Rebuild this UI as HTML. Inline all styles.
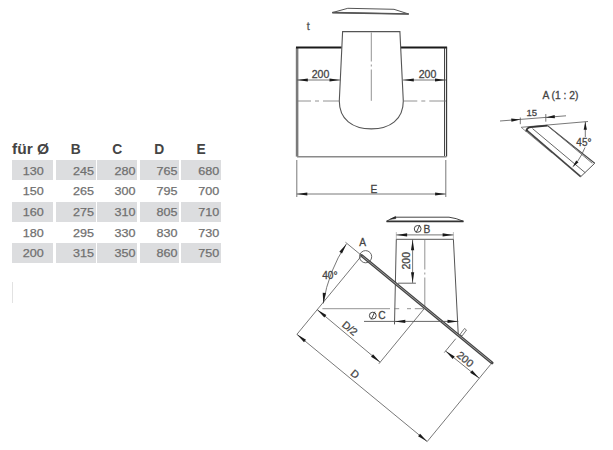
<!DOCTYPE html>
<html><head><meta charset="utf-8"><style>
html,body{margin:0;padding:0;background:#fff;}
body{width:613px;height:450px;position:relative;overflow:hidden;font-family:"Liberation Sans",sans-serif;}
.c{position:absolute;height:20px;}
.g{background:#dcdddf;}
.vl{position:absolute;left:12px;top:282px;width:1px;height:21px;background:#e2e2e2;}
svg{position:absolute;left:0;top:0;}
svg text{font-family:"Liberation Sans",sans-serif;}
</style></head><body>
<div class="c g" style="left:12.00px;top:160.30px;width:40.80px;"></div><div class="c g" style="left:55.50px;top:160.30px;width:40.20px;"></div><div class="c g" style="left:97.40px;top:160.30px;width:39.90px;"></div><div class="c g" style="left:139.50px;top:160.30px;width:39.70px;"></div><div class="c g" style="left:181.40px;top:160.30px;width:39.60px;"></div><div class="c g" style="left:12.00px;top:201.50px;width:40.80px;"></div><div class="c g" style="left:55.50px;top:201.50px;width:40.20px;"></div><div class="c g" style="left:97.40px;top:201.50px;width:39.90px;"></div><div class="c g" style="left:139.50px;top:201.50px;width:39.70px;"></div><div class="c g" style="left:181.40px;top:201.50px;width:39.60px;"></div><div class="c g" style="left:12.00px;top:242.70px;width:40.80px;"></div><div class="c g" style="left:55.50px;top:242.70px;width:40.20px;"></div><div class="c g" style="left:97.40px;top:242.70px;width:39.90px;"></div><div class="c g" style="left:139.50px;top:242.70px;width:39.70px;"></div><div class="c g" style="left:181.40px;top:242.70px;width:39.60px;"></div>
<div class="vl"></div>
<svg width="613" height="450" viewBox="0 0 613 450">
<polygon points="332.30,12.60 347.80,8.30 394.00,9.30 408.70,14.00" fill="none" stroke="#555" stroke-width="1.0" />
<line x1="332.30" y1="12.60" x2="408.70" y2="14.00" stroke="#555" stroke-width="1.6" />
<line x1="297.10" y1="47.60" x2="297.10" y2="156.60" stroke="#7a7a7a" stroke-width="2.6" />
<line x1="296.00" y1="47.60" x2="341.60" y2="47.60" stroke="#1a1a1a" stroke-width="2.0" />
<line x1="400.60" y1="47.60" x2="447.10" y2="47.60" stroke="#1a1a1a" stroke-width="2.0" />
<line x1="444.60" y1="47.60" x2="444.60" y2="156.50" stroke="#333" stroke-width="1.0" />
<line x1="446.60" y1="47.60" x2="446.60" y2="156.50" stroke="#333" stroke-width="1.1" />
<line x1="297.00" y1="156.70" x2="446.50" y2="156.70" stroke="#8a8a8a" stroke-width="1.5" />
<path d="M339.3,101 L342.6,31.6 L399.9,31.6 L403.3,101 C403.3,119.5 390,128.9 371.3,128.9 C352.6,128.9 339.3,119.5 339.3,101" stroke="#555" stroke-width="1.1" fill="none" />
<line x1="371.30" y1="32.50" x2="371.30" y2="100.80" stroke="#777" stroke-width="0.8" stroke-dasharray="29 3 2 3 40"/>
<line x1="297.00" y1="101.00" x2="339.30" y2="101.00" stroke="#777" stroke-width="0.8" stroke-dasharray="14 4 4 4 40"/>
<line x1="403.30" y1="101.00" x2="446.00" y2="101.00" stroke="#777" stroke-width="0.8" stroke-dasharray="14 4 4 4 40"/>
<line x1="297.00" y1="80.00" x2="340.50" y2="80.00" stroke="#555" stroke-width="0.8" />
<polygon points="297.30,80.00 307.80,78.40 307.80,81.60" fill="#1a1a1a"/>
<polygon points="340.00,80.00 329.50,81.60 329.50,78.40" fill="#1a1a1a"/>
<line x1="403.00" y1="80.00" x2="446.00" y2="80.00" stroke="#555" stroke-width="0.8" />
<polygon points="403.30,80.00 413.80,78.40 413.80,81.60" fill="#1a1a1a"/>
<polygon points="445.50,80.00 435.00,81.60 435.00,78.40" fill="#1a1a1a"/>
<line x1="296.80" y1="160.00" x2="296.80" y2="197.00" stroke="#555" stroke-width="0.8" />
<line x1="445.80" y1="160.00" x2="445.80" y2="197.00" stroke="#555" stroke-width="0.8" />
<line x1="296.80" y1="194.00" x2="445.80" y2="194.00" stroke="#555" stroke-width="0.8" />
<polygon points="296.80,194.00 307.30,192.40 307.30,195.60" fill="#1a1a1a"/>
<polygon points="445.60,194.00 435.10,195.60 435.10,192.40" fill="#1a1a1a"/>
<line x1="500.00" y1="121.00" x2="566.00" y2="115.80" stroke="#555" stroke-width="0.8" />
<line x1="520.30" y1="117.50" x2="520.30" y2="124.20" stroke="#555" stroke-width="0.8" />
<line x1="545.80" y1="114.00" x2="545.80" y2="121.70" stroke="#555" stroke-width="0.8" />
<polygon points="520.30,119.40 511.45,121.69 511.20,118.50" fill="#1a1a1a"/>
<polygon points="545.80,117.40 554.65,115.10 554.90,118.29" fill="#1a1a1a"/>
<line x1="521.10" y1="127.30" x2="588.00" y2="121.50" stroke="#555" stroke-width="0.8" />
<line x1="585.30" y1="121.80" x2="585.30" y2="137.00" stroke="#555" stroke-width="0.8" />
<polygon points="585.30,121.80 586.90,129.80 583.70,129.80" fill="#1a1a1a"/>
<line x1="521.10" y1="127.30" x2="552.00" y2="153.00" stroke="#777" stroke-width="0.8" />
<line x1="526.30" y1="129.80" x2="580.70" y2="176.70" stroke="#444" stroke-width="1.7" />
<line x1="532.50" y1="128.60" x2="585.20" y2="172.70" stroke="#555" stroke-width="0.9" />
<line x1="580.70" y1="176.70" x2="594.70" y2="163.30" stroke="#555" stroke-width="1.0" />
<line x1="547.50" y1="125.60" x2="594.70" y2="163.30" stroke="#444" stroke-width="1.1" />
<line x1="550.30" y1="128.00" x2="592.30" y2="163.30" stroke="#666" stroke-width="0.9" />
<path d="M526.3,131.5 Q526.5,127.6 531,127.2 L547.5,125.6" stroke="#333" stroke-width="1.8" fill="none" />
<path d="M585,147.5 Q582,155 577.5,161.5" stroke="#555" stroke-width="0.8" fill="none" />
<polygon points="572.30,167.60 576.20,160.46 578.53,162.36" fill="#1a1a1a"/>
<path d="M386.5,221.3 Q391,218.2 396,217.2 L449,217.2 Q456,218 463.5,221.3" stroke="#444" stroke-width="1.0" fill="none" />
<line x1="386.50" y1="221.30" x2="463.50" y2="221.30" stroke="#333" stroke-width="1.8" />
<polygon points="390.50,219.20 395.50,216.40 395.80,218.60" fill="#222" stroke="#222" stroke-width="0.6" />
<circle cx="417.7" cy="228.9" r="3.4" fill="none" stroke="#444" stroke-width="1.0"/>
<line x1="416.10" y1="232.80" x2="419.80" y2="225.00" stroke="#444" stroke-width="1.0" />
<line x1="396.30" y1="232.00" x2="396.30" y2="239.30" stroke="#999" stroke-width="0.6" />
<line x1="453.40" y1="232.00" x2="453.40" y2="239.30" stroke="#999" stroke-width="0.6" />
<line x1="396.30" y1="234.90" x2="453.40" y2="234.90" stroke="#555" stroke-width="0.8" />
<polygon points="396.60,234.90 407.10,233.30 407.10,236.50" fill="#1a1a1a"/>
<polygon points="453.10,234.90 442.60,236.50 442.60,233.30" fill="#1a1a1a"/>
<line x1="396.30" y1="239.30" x2="453.40" y2="239.30" stroke="#555" stroke-width="1.0" />
<line x1="396.30" y1="239.30" x2="394.50" y2="324.40" stroke="#555" stroke-width="1.0" />
<line x1="453.40" y1="239.30" x2="458.30" y2="335.60" stroke="#555" stroke-width="1.0" />
<line x1="424.80" y1="239.50" x2="424.80" y2="308.50" stroke="#777" stroke-width="0.8" stroke-dasharray="30 3 2 3 40"/>
<line x1="412.60" y1="239.50" x2="412.60" y2="283.00" stroke="#555" stroke-width="0.8" />
<polygon points="412.60,239.80 414.20,250.30 411.00,250.30" fill="#1a1a1a"/>
<polygon points="412.60,282.80 411.00,272.30 414.20,272.30" fill="#1a1a1a"/>
<line x1="398.00" y1="283.20" x2="415.90" y2="283.20" stroke="#555" stroke-width="0.9" />
<line x1="361.70" y1="255.60" x2="492.00" y2="362.80" stroke="#444" stroke-width="3.0" stroke-linecap="round"/>
<line x1="362.32" y1="256.11" x2="491.38" y2="362.29" stroke="#9a9a9a" stroke-width="1.0" />
<circle cx="365.6" cy="256.7" r="6.1" fill="none" stroke="#555" stroke-width="0.9"/>
<line x1="345.48" y1="242.26" x2="361.70" y2="255.60" stroke="#555" stroke-width="0.8" />
<line x1="361.70" y1="255.60" x2="296.90" y2="334.37" stroke="#555" stroke-width="0.8" />
<line x1="322.40" y1="308.70" x2="424.60" y2="308.70" stroke="#777" stroke-width="0.8" stroke-dasharray="67.6 4.2 5 7.8 4 3.8 10"/>
<path d="M346.4,243.9 A148,148 0 0 0 323.3,303.4" stroke="#555" stroke-width="0.8" fill="none"/>
<polygon points="346.40,243.90 342.03,253.58 339.35,251.84" fill="#1a1a1a"/>
<polygon points="323.30,303.40 322.71,292.80 325.89,293.10" fill="#1a1a1a"/>
<line x1="364.00" y1="321.40" x2="458.30" y2="321.40" stroke="#555" stroke-width="0.9" />
<polygon points="394.80,321.40 405.30,319.80 405.30,323.00" fill="#1a1a1a"/>
<polygon points="458.00,321.40 447.50,323.00 447.50,319.80" fill="#1a1a1a"/>
<circle cx="372.8" cy="315.6" r="3.4" fill="none" stroke="#444" stroke-width="1.0"/>
<line x1="371.20" y1="319.50" x2="374.90" y2="311.70" stroke="#444" stroke-width="1.0" />
<line x1="424.60" y1="308.20" x2="378.86" y2="363.80" stroke="#555" stroke-width="0.8" />
<line x1="317.23" y1="309.66" x2="380.13" y2="362.26" stroke="#555" stroke-width="0.8" />
<polygon points="317.23,309.66 326.35,315.09 324.32,317.56" fill="#1a1a1a"/>
<polygon points="380.13,362.26 371.00,356.82 373.03,354.35" fill="#1a1a1a"/>
<line x1="490.73" y1="364.34" x2="427.20" y2="441.57" stroke="#555" stroke-width="0.8" />
<line x1="296.90" y1="334.37" x2="427.20" y2="441.57" stroke="#555" stroke-width="0.8" />
<polygon points="296.90,334.37 306.02,339.80 303.99,342.27" fill="#1a1a1a"/>
<polygon points="427.20,441.57 418.07,436.13 420.10,433.66" fill="#1a1a1a"/>
<line x1="455.76" y1="338.69" x2="444.32" y2="352.59" stroke="#555" stroke-width="0.8" />
<line x1="445.59" y1="351.04" x2="479.29" y2="378.24" stroke="#555" stroke-width="0.8" />
<polygon points="445.59,351.04 454.72,356.48 452.69,358.95" fill="#1a1a1a"/>
<polygon points="479.29,378.24 470.17,372.81 472.20,370.34" fill="#1a1a1a"/>
<polygon points="460.00,334.50 464.50,328.50 466.50,330.00 462.00,336.00" fill="none" stroke="#555" stroke-width="0.8" />
<text transform="translate(308.20 26.50) rotate(0)" x="0" y="3.89" font-size="10.8" fill="#555" stroke="#555" stroke-width="0.28" text-anchor="middle">t</text>
<text transform="translate(320.50 74.40) rotate(0)" x="0" y="3.67" font-size="10.2" fill="#444" stroke="#444" stroke-width="0.28" text-anchor="middle" textLength="17.6" lengthAdjust="spacingAndGlyphs">200</text>
<text transform="translate(427.50 74.40) rotate(0)" x="0" y="3.67" font-size="10.2" fill="#444" stroke="#444" stroke-width="0.28" text-anchor="middle" textLength="17.6" lengthAdjust="spacingAndGlyphs">200</text>
<text transform="translate(374.00 189.00) rotate(0)" x="0" y="3.67" font-size="10.2" fill="#444" stroke="#444" stroke-width="0.28" text-anchor="middle">E</text>
<text transform="translate(560.40 95.00) rotate(0)" x="0" y="3.60" font-size="10" fill="#444" stroke="#444" stroke-width="0.28" text-anchor="middle" textLength="36" lengthAdjust="spacingAndGlyphs">A (1 : 2)</text>
<text transform="translate(531.80 112.80) rotate(0)" x="0" y="3.42" font-size="9.5" fill="#444" stroke="#444" stroke-width="0.28" text-anchor="middle">15</text>
<text transform="translate(583.90 142.00) rotate(0)" x="0" y="3.60" font-size="10" fill="#444" stroke="#444" stroke-width="0.28" text-anchor="middle">45°</text>
<text transform="translate(426.90 229.50) rotate(0)" x="0" y="3.67" font-size="10.2" fill="#444" stroke="#444" stroke-width="0.28" text-anchor="middle">B</text>
<text transform="translate(406.60 260.70) rotate(-90)" x="0" y="3.67" font-size="10.2" fill="#444" stroke="#444" stroke-width="0.28" text-anchor="middle" textLength="17.6" lengthAdjust="spacingAndGlyphs">200</text>
<text transform="translate(362.70 242.20) rotate(0)" x="0" y="3.67" font-size="10.2" fill="#444" stroke="#444" stroke-width="0.28" text-anchor="middle">A</text>
<text transform="translate(329.90 275.00) rotate(0)" x="0" y="3.67" font-size="10.2" fill="#444" stroke="#444" stroke-width="0.28" text-anchor="middle">40°</text>
<text transform="translate(381.90 315.70) rotate(0)" x="0" y="3.67" font-size="10.2" fill="#444" stroke="#444" stroke-width="0.28" text-anchor="middle">C</text>
<text transform="translate(349.90 328.20) rotate(39.444705496758225)" x="0" y="3.78" font-size="10.5" fill="#444" stroke="#444" stroke-width="0.28" text-anchor="middle">D/2</text>
<text transform="translate(355.20 374.00) rotate(39.444705496758225)" x="0" y="3.78" font-size="10.5" fill="#444" stroke="#444" stroke-width="0.28" text-anchor="middle">D</text>
<text transform="translate(465.30 359.10) rotate(39.444705496758225)" x="0" y="3.78" font-size="10.5" fill="#444" stroke="#444" stroke-width="0.28" text-anchor="middle" textLength="18" lengthAdjust="spacingAndGlyphs">200</text>
<text x="12.0" y="154.0" font-size="13.8" font-weight="bold" fill="#444" text-anchor="start" textLength="37.2" lengthAdjust="spacingAndGlyphs">für Ø</text><text x="75.7" y="154.0" font-size="13.8" font-weight="bold" fill="#444" text-anchor="middle">B</text><text x="117.3" y="154.0" font-size="13.8" font-weight="bold" fill="#444" text-anchor="middle">C</text><text x="159.2" y="154.0" font-size="13.8" font-weight="bold" fill="#444" text-anchor="middle">D</text><text x="201" y="154.0" font-size="13.8" font-weight="bold" fill="#444" text-anchor="middle">E</text><text x="33.20" y="174.70" font-size="11.2" fill="#707070" stroke="#707070" stroke-width="0.25" text-anchor="middle" textLength="21.00" lengthAdjust="spacingAndGlyphs">130</text><text x="94.00" y="174.70" font-size="11.2" fill="#707070" stroke="#707070" stroke-width="0.25" text-anchor="end" textLength="21.00" lengthAdjust="spacingAndGlyphs">245</text><text x="135.60" y="174.70" font-size="11.2" fill="#707070" stroke="#707070" stroke-width="0.25" text-anchor="end" textLength="21.00" lengthAdjust="spacingAndGlyphs">280</text><text x="177.50" y="174.70" font-size="11.2" fill="#707070" stroke="#707070" stroke-width="0.25" text-anchor="end" textLength="21.00" lengthAdjust="spacingAndGlyphs">765</text><text x="219.30" y="174.70" font-size="11.2" fill="#707070" stroke="#707070" stroke-width="0.25" text-anchor="end" textLength="21.00" lengthAdjust="spacingAndGlyphs">680</text><text x="33.20" y="195.30" font-size="11.2" fill="#707070" stroke="#707070" stroke-width="0.25" text-anchor="middle" textLength="21.00" lengthAdjust="spacingAndGlyphs">150</text><text x="94.00" y="195.30" font-size="11.2" fill="#707070" stroke="#707070" stroke-width="0.25" text-anchor="end" textLength="21.00" lengthAdjust="spacingAndGlyphs">265</text><text x="135.60" y="195.30" font-size="11.2" fill="#707070" stroke="#707070" stroke-width="0.25" text-anchor="end" textLength="21.00" lengthAdjust="spacingAndGlyphs">300</text><text x="177.50" y="195.30" font-size="11.2" fill="#707070" stroke="#707070" stroke-width="0.25" text-anchor="end" textLength="21.00" lengthAdjust="spacingAndGlyphs">795</text><text x="219.30" y="195.30" font-size="11.2" fill="#707070" stroke="#707070" stroke-width="0.25" text-anchor="end" textLength="21.00" lengthAdjust="spacingAndGlyphs">700</text><text x="33.20" y="215.90" font-size="11.2" fill="#707070" stroke="#707070" stroke-width="0.25" text-anchor="middle" textLength="21.00" lengthAdjust="spacingAndGlyphs">160</text><text x="94.00" y="215.90" font-size="11.2" fill="#707070" stroke="#707070" stroke-width="0.25" text-anchor="end" textLength="21.00" lengthAdjust="spacingAndGlyphs">275</text><text x="135.60" y="215.90" font-size="11.2" fill="#707070" stroke="#707070" stroke-width="0.25" text-anchor="end" textLength="21.00" lengthAdjust="spacingAndGlyphs">310</text><text x="177.50" y="215.90" font-size="11.2" fill="#707070" stroke="#707070" stroke-width="0.25" text-anchor="end" textLength="21.00" lengthAdjust="spacingAndGlyphs">805</text><text x="219.30" y="215.90" font-size="11.2" fill="#707070" stroke="#707070" stroke-width="0.25" text-anchor="end" textLength="21.00" lengthAdjust="spacingAndGlyphs">710</text><text x="33.20" y="236.50" font-size="11.2" fill="#707070" stroke="#707070" stroke-width="0.25" text-anchor="middle" textLength="21.00" lengthAdjust="spacingAndGlyphs">180</text><text x="94.00" y="236.50" font-size="11.2" fill="#707070" stroke="#707070" stroke-width="0.25" text-anchor="end" textLength="21.00" lengthAdjust="spacingAndGlyphs">295</text><text x="135.60" y="236.50" font-size="11.2" fill="#707070" stroke="#707070" stroke-width="0.25" text-anchor="end" textLength="21.00" lengthAdjust="spacingAndGlyphs">330</text><text x="177.50" y="236.50" font-size="11.2" fill="#707070" stroke="#707070" stroke-width="0.25" text-anchor="end" textLength="21.00" lengthAdjust="spacingAndGlyphs">830</text><text x="219.30" y="236.50" font-size="11.2" fill="#707070" stroke="#707070" stroke-width="0.25" text-anchor="end" textLength="21.00" lengthAdjust="spacingAndGlyphs">730</text><text x="33.20" y="257.10" font-size="11.2" fill="#707070" stroke="#707070" stroke-width="0.25" text-anchor="middle" textLength="21.00" lengthAdjust="spacingAndGlyphs">200</text><text x="94.00" y="257.10" font-size="11.2" fill="#707070" stroke="#707070" stroke-width="0.25" text-anchor="end" textLength="21.00" lengthAdjust="spacingAndGlyphs">315</text><text x="135.60" y="257.10" font-size="11.2" fill="#707070" stroke="#707070" stroke-width="0.25" text-anchor="end" textLength="21.00" lengthAdjust="spacingAndGlyphs">350</text><text x="177.50" y="257.10" font-size="11.2" fill="#707070" stroke="#707070" stroke-width="0.25" text-anchor="end" textLength="21.00" lengthAdjust="spacingAndGlyphs">860</text><text x="219.30" y="257.10" font-size="11.2" fill="#707070" stroke="#707070" stroke-width="0.25" text-anchor="end" textLength="21.00" lengthAdjust="spacingAndGlyphs">750</text>
</svg>
</body></html>
